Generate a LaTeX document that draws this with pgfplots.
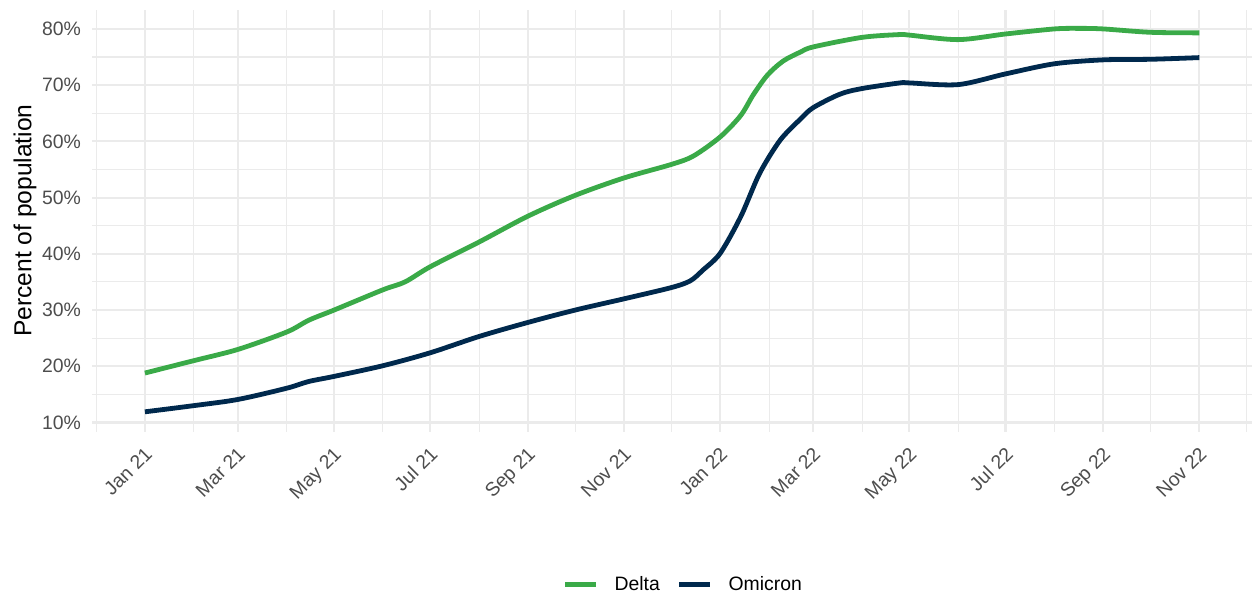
\documentclass[border=0pt]{standalone}
\usepackage{fontspec}
\setmainfont{Liberation Sans}
\usepackage{pgfplots}
\pgfplotsset{compat=1.18}

\definecolor{deltagreen}{HTML}{3AAA48}
\definecolor{omicronnavy}{HTML}{00294D}
\definecolor{gridgray}{HTML}{EBEBEB}
\definecolor{ticktext}{HTML}{4D4D4D}

% x = days since 1 Jan 2021, y = percent of population
\pgfplotstableread{
day pct
0   18.8
31  21.0
59  23.0
90  26.1
104 28.2
120 30.0
151 33.6
165 35.0
181 37.7
212 42.1
243 46.7
273 50.4
304 53.5
334 55.9
348 57.4
365 60.8
378 64.6
386 68.3
395 71.8
405 74.3
416 75.9
424 76.8
455 78.5
479 79.0
485 78.9
516 78.1
546 79.1
577 80.0
593 80.1
608 80.0
638 79.4
669 79.3
}\deltadata

\pgfplotstableread{
day pct
0   11.9
31  13.0
59  14.1
90  16.1
104 17.3
120 18.2
151 20.1
181 22.4
212 25.3
243 27.8
273 30.0
304 32.0
334 34.0
346 35.2
354 37.1
365 40.1
378 46.6
390 54.3
403 60.2
416 64.0
424 66.0
441 68.4
455 69.4
479 70.4
485 70.4
516 70.1
546 72.0
577 73.8
608 74.5
638 74.6
669 74.9
}\omicrondata

\begin{document}
\begin{tikzpicture}
\begin{axis}[
    at={(0,0)}, anchor=south west,
    scale only axis,
    width=580pt, height=210.9pt,
    xmin=-33.4, xmax=702.4,
    ymin=8.4, ymax=83.4,
    axis line style={draw=none},
    major tick length=0pt, minor tick length=0pt,
    xtick={0,59,120,181,243,304,365,424,485,546,608,669},
    xticklabels={Jan 21,Mar 21,May 21,Jul 21,Sep 21,Nov 21,Jan 22,Mar 22,May 22,Jul 22,Sep 22,Nov 22},
    minor xtick={-31,31,90,151,212,273,334,396,455,516,577,638,699},
    ytick={10,20,...,80},
    minor ytick={15,25,...,75},
    /pgf/number format/assume math mode=true,
    yticklabel={\pgfmathprintnumber{\tick}\%},
    grid=both,
    major grid style={draw=gridgray, line width=1.1pt},
    minor grid style={draw=gridgray, line width=0.55pt},
    xticklabel style={font=\fontsize{9.7}{11}\selectfont, text=ticktext, inner sep=0pt,
        rotate=45, anchor=north east, xshift=-5.3pt, yshift=-4.4pt},
    yticklabel style={font=\fontsize{9.7}{11}\selectfont, text=ticktext, inner sep=0pt,
        anchor=east, xshift=-5.5pt},
    ylabel={Percent of population},
    ylabel style={at={(axis description cs:-0.058,0.5)}, anchor=center,
        font=\fontsize{12.3}{14}\selectfont},
    legend columns=-1,
    legend style={draw=none, fill=none, inner sep=0pt,
        at={(axis description cs:0.5088,-0.3637)}, anchor=center,
        font=\fontsize{9.7}{11}\selectfont,
        nodes={inner sep=0pt},
        /tikz/every odd column/.append style={column sep=8pt},
        /tikz/every even column/.append style={column sep=8.5pt}},
    legend image code/.code={\draw[#1, line width=2.4pt] (0pt,0pt) -- (15.5pt,0pt);},
]
\addplot[deltagreen, line width=2.4pt, smooth] table[x=day, y=pct] {\deltadata};
\addlegendentry{Delta}
\addplot[omicronnavy, line width=2.4pt, smooth] table[x=day, y=pct] {\omicrondata};
\addlegendentry{Omicron}
\end{axis}
\pgfresetboundingbox
\path[use as bounding box] (-46.15pt,-81.7pt) rectangle (583pt,215.8pt);
\end{tikzpicture}
\end{document}
